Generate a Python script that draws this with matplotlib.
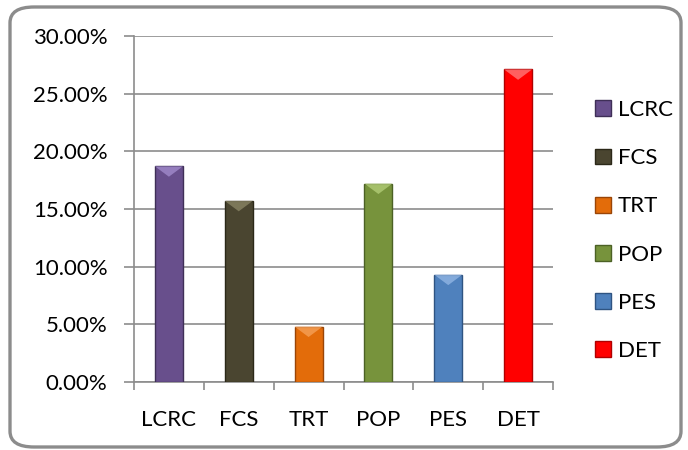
import matplotlib
matplotlib.use("Agg")
import matplotlib.pyplot as plt
from matplotlib.patches import FancyBboxPatch, Polygon
from matplotlib.ticker import FuncFormatter, MultipleLocator
import numpy as np

plt.rcParams['font.family'] = ['Lato', 'DejaVu Sans']

categories = ["LCRC", "FCS", "TRT", "POP", "PES", "DET"]
values = [18.7, 15.7, 4.8, 17.2, 9.3, 27.1]
colors = ["#684f8c", "#4a4530", "#e36c0a", "#77933c", "#4f81bd", "#ff0000"]
edges = ["#3f2f57", "#2b2818", "#9a4506", "#4c6125", "#2f5482", "#b00000"]
tops = ["#a58fd0", "#8d8868", "#f7a35c", "#b5d07a", "#95b9e6", "#ff8080"]

FS = 16

fig = plt.figure(figsize=(6.88, 4.5), dpi=100)
ax = fig.add_axes([134/688, 1 - 382/450, 419/688, 346/450])

x = np.arange(len(categories))
bw = 0.4
ax.bar(x, values, width=bw, color=colors, edgecolor=edges, linewidth=1.0, zorder=3)

# bevel highlight on bar tops
for xi, v, tc in zip(x, values, tops):
    h = 0.9
    tri = Polygon([[xi - bw / 2, v], [xi + bw / 2, v], [xi, v - h]],
                  closed=True, facecolor=tc, edgecolor='none', alpha=0.75, zorder=4)
    ax.add_patch(tri)

ax.set_xlim(-0.5, len(categories) - 0.5)
ax.set_ylim(0, 30)
ax.yaxis.set_major_locator(MultipleLocator(5))
ax.yaxis.set_major_formatter(FuncFormatter(lambda v, p: f"{v:.2f}%"))
ax.grid(axis='y', color='#8c8c8c', linewidth=1.2, zorder=0)
ax.set_axisbelow(True)

for s in ['top', 'right']:
    ax.spines[s].set_visible(False)
for s in ['left', 'bottom']:
    ax.spines[s].set_color('#8c8c8c')
    ax.spines[s].set_linewidth(1.2)

ax.set_xticks(x)
ax.set_xticklabels(categories)
ax.set_xticks(np.arange(-0.5, len(categories), 1.0), minor=True)
ax.tick_params(axis='x', which='major', length=0, pad=20, labelsize=FS)
ax.tick_params(axis='x', which='minor', length=6, color='#8c8c8c', width=1.2)
ax.tick_params(axis='y', length=7, color='#8c8c8c', width=1.2, labelsize=FS, pad=12)

# legend with square markers
handles = [plt.Rectangle((0, 0), 1, 1, facecolor=c, edgecolor=e) for c, e in zip(colors, edges)]
fig.legend(handles, categories, loc='upper left', bbox_to_anchor=(595/688, 1 - 100/450),
           frameon=False, fontsize=FS, handlelength=0.72, handleheight=0.72,
           handletextpad=0.3, labelspacing=1.27, borderpad=0, borderaxespad=0)

# rounded outer frame
frame = FancyBboxPatch((10/688, 3/450), 671/688, 440/450,
                       boxstyle="round,pad=0,rounding_size=0.035",
                       transform=fig.transFigure, facecolor='none',
                       edgecolor='#8c8c8c', linewidth=2.4, zorder=10)
fig.patches.append(frame)

fig.savefig("out.png", dpi=100)
